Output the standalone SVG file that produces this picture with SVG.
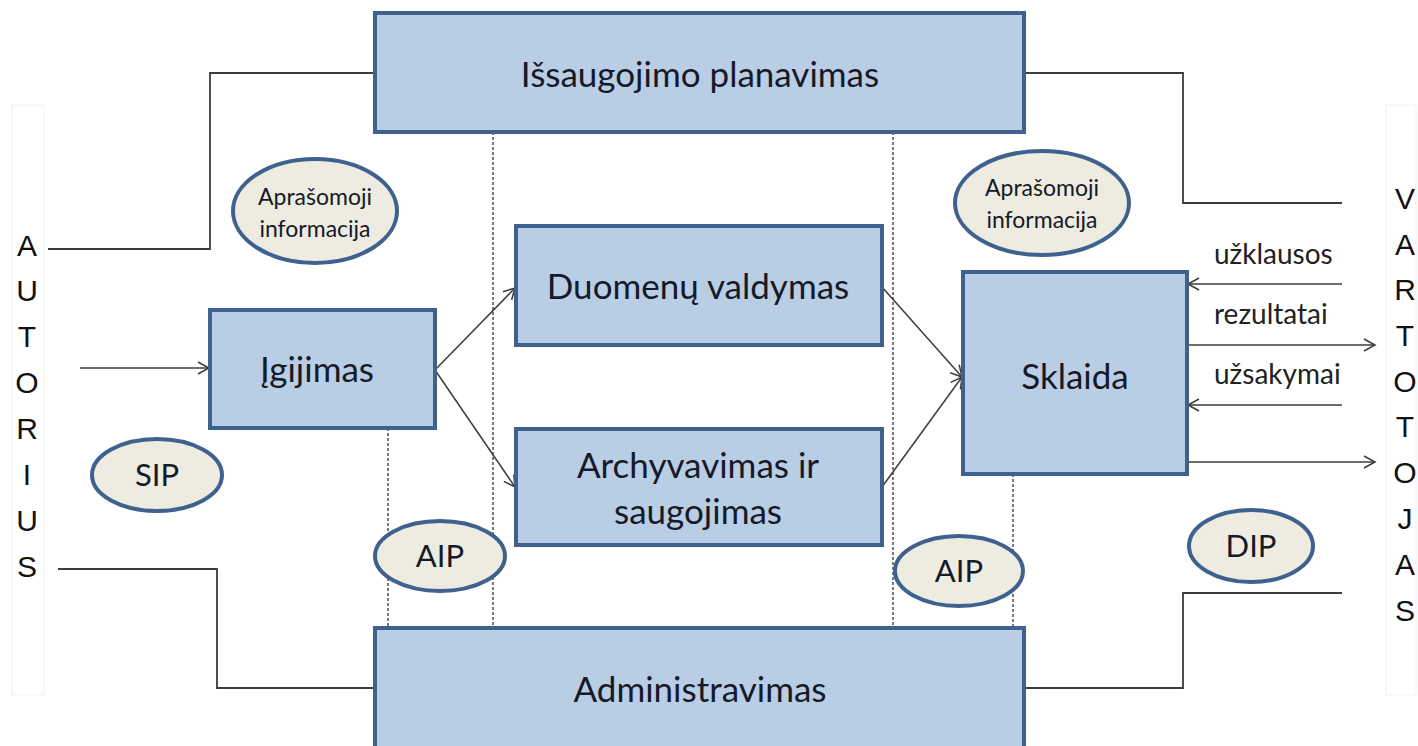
<svg xmlns="http://www.w3.org/2000/svg" width="1418" height="746" viewBox="0 0 1418 746">
<defs>
<style>
.box{fill:#b9cde5;stroke:#3f618e;stroke-width:4}
.ell{fill:#eeece1;stroke:#3f618e;stroke-width:4}
.t{font-family:Lato,"Liberation Sans",sans-serif;fill:#151a28;text-anchor:middle}
.big{font-size:35px}
.mid{font-size:23px}
.sm{font-size:31px}
.lab{font-family:Lato,"Liberation Sans",sans-serif;font-size:28px;fill:#222}
.let{font-family:"Liberation Sans",Arial,sans-serif;font-size:30px;fill:#111;text-anchor:middle}
.ln{fill:none;stroke:#3c3c3c;stroke-width:1.8}
.dot{fill:none;stroke:#333;stroke-width:1.3;stroke-dasharray:3 2}
.ar{fill:none;stroke:#3c3c3c;stroke-width:1.5;marker-end:url(#ah)}
.frame{fill:none;stroke:#f2f2f2;stroke-width:1}
</style>
<marker id="ah" markerWidth="14" markerHeight="14" refX="12" refY="7" orient="auto" markerUnits="userSpaceOnUse">
<path d="M1,1 L12,7 L1,13" fill="none" stroke="#3c3c3c" stroke-width="1.5"/>
</marker>
</defs>
<rect width="1418" height="746" fill="#fff"/>
<rect class="frame" x="12" y="105" width="32" height="590"/>
<rect class="frame" x="1386" y="105" width="30" height="590"/>

<g id="connectors">
<polyline class="ln" points="48,249 210,249 210,73 375,73"/>
<polyline class="ln" points="1024,73 1183,73 1183,203 1342,203"/>
<polyline class="ln" points="58,569 217,569 217,688 375,688"/>
<polyline class="ln" points="1024,688 1183,688 1183,593 1342,593"/>
<line class="dot" x1="493" y1="132" x2="493" y2="628"/>
<line class="dot" x1="893" y1="132" x2="893" y2="628"/>
<line class="dot" x1="388" y1="428" x2="388" y2="628"/>
<line class="dot" x1="1013" y1="474" x2="1013" y2="628"/>
<line class="ar" x1="80" y1="368" x2="209" y2="368"/>
<line class="ar" x1="435" y1="370" x2="515" y2="288"/>
<line class="ar" x1="435" y1="370" x2="515" y2="487"/>
<line class="ar" x1="882" y1="287" x2="962" y2="377"/>
<line class="ar" x1="882" y1="487" x2="962" y2="377"/>
<line class="ar" x1="1342" y1="284" x2="1188" y2="284"/>
<line class="ar" x1="1187" y1="345" x2="1375" y2="345"/>
<line class="ar" x1="1342" y1="405" x2="1188" y2="405"/>
<line class="ar" x1="1187" y1="462" x2="1375" y2="462"/>
<text class="lab" x="1214" y="264">užklausos</text>
<text class="lab" x="1214" y="324">rezultatai</text>
<text class="lab" x="1214" y="384">užsakymai</text>
</g>

<g id="planavimas"><rect class="box" x="375" y="13" width="649" height="119"/><text class="t big" x="700" y="87">Išsaugojimo planavimas</text></g>
<g id="apr-left"><ellipse class="ell" cx="315" cy="211" rx="82" ry="52"/><text class="t mid" x="315" y="205">Aprašomoji</text><text class="t mid" x="315" y="237">informacija</text></g>
<g id="apr-right"><ellipse class="ell" cx="1042" cy="203" rx="87" ry="52"/><text class="t mid" x="1042" y="196">Aprašomoji</text><text class="t mid" x="1042" y="228">informacija</text></g>
<g id="igijimas"><rect class="box" x="210" y="310" width="225" height="118"/><text class="t big" x="317" y="382">Įgijimas</text></g>
<g id="duomenu"><rect class="box" x="516" y="226" width="366" height="119"/><text class="t big" x="698" y="299">Duomenų valdymas</text></g>
<g id="archyvavimas"><rect class="box" x="516" y="429" width="366" height="116"/><text class="t big" x="698" y="478">Archyvavimas ir</text><text class="t big" x="698" y="524">saugojimas</text></g>
<g id="sklaida"><rect class="box" x="963" y="272" width="224" height="202"/><text class="t big" x="1075" y="389">Sklaida</text></g>
<g id="administravimas"><rect class="box" x="375" y="628" width="649" height="122"/><text class="t big" x="700" y="702">Administravimas</text></g>
<g id="sip"><ellipse class="ell" cx="157" cy="475" rx="65" ry="36"/><text class="t sm" x="157" y="486">SIP</text></g>
<g id="aip-left"><ellipse class="ell" cx="440" cy="556" rx="65" ry="35"/><text class="t sm" x="440" y="567">AIP</text></g>
<g id="aip-right"><ellipse class="ell" cx="959" cy="571" rx="64" ry="35"/><text class="t sm" x="959" y="582">AIP</text></g>
<g id="dip"><ellipse class="ell" cx="1251" cy="546" rx="62" ry="36"/><text class="t sm" x="1251" y="557">DIP</text></g>

<g id="autorius">
<text class="let" x="27" y="256">A</text>
<text class="let" x="27" y="301">U</text>
<text class="let" x="27" y="347">T</text>
<text class="let" x="27" y="393">O</text>
<text class="let" x="27" y="439">R</text>
<text class="let" x="27" y="485">I</text>
<text class="let" x="27" y="531">U</text>
<text class="let" x="27" y="577">S</text>
</g>
<g id="vartotojas">
<text class="let" x="1405" y="209">V</text>
<text class="let" x="1405" y="255">A</text>
<text class="let" x="1405" y="300">R</text>
<text class="let" x="1405" y="346">T</text>
<text class="let" x="1405" y="392">O</text>
<text class="let" x="1405" y="437">T</text>
<text class="let" x="1405" y="483">O</text>
<text class="let" x="1405" y="529">J</text>
<text class="let" x="1405" y="575">A</text>
<text class="let" x="1405" y="621">S</text>
</g>
</svg>
